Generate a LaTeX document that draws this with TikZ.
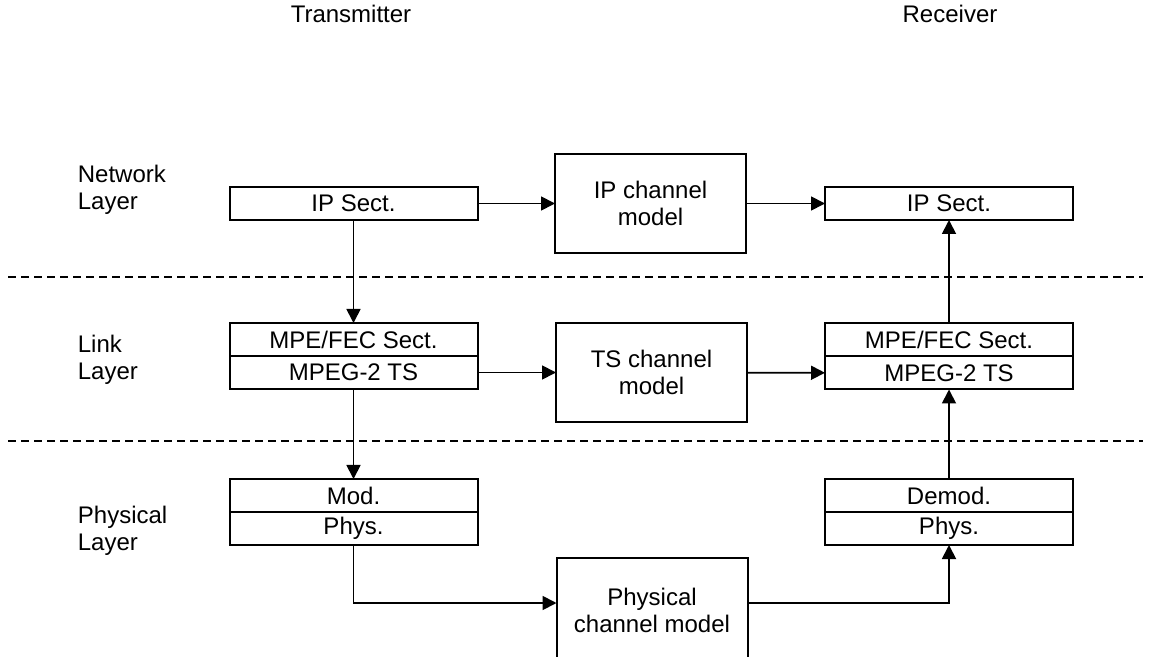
\documentclass[tikz,border=0pt]{standalone}
\usepackage{fontspec}
\setmainfont{Liberation Sans}
\usetikzlibrary{arrows.meta,positioning}

\begin{document}
\begin{tikzpicture}[x=0.5pt,y=-0.5pt,>={Triangle[length=7pt,width=7pt]},line width=0.9pt,
    every node/.style={font=\fontsize{12}{13.5}\selectfont},
    sect/.style={draw,line width=1pt,inner sep=0pt,outer sep=0pt,minimum width=124pt,minimum height=16.5pt},
    chan/.style={draw,line width=1pt,inner sep=0pt,outer sep=0pt,minimum width=95.5pt,minimum height=49.5pt,align=center},
    layer/.style={anchor=west,align=left,inner sep=0pt},
    divider/.style={dash pattern=on 4pt off 2.5pt,line width=0.7pt}]
  \useasboundingbox (0,0) rectangle (1151,657);

  % column titles
  \node (tx) at (351,14) {Transmitter};
  \node (rx) at (950,14) {Receiver};

  % layer names and separators
  \node[layer] (netlayer) at (77,190) {Network\\Layer};
  \node[layer] (linklayer) at (77,360) {Link\\Layer};
  \node[layer] (phylayer) at (77,531) {Physical\\Layer};
  \draw[divider] (8,277) -- (1143,277);
  \draw[divider] (8,441) -- (1143,441);

  % transmitter side
  \node[sect] (tip) at (353.5,203.5) {IP Sect.};
  \node[sect] (tmpe) at (353.5,339.5) {MPE/FEC Sect.};
  \node[sect] (tmpeg) [below=0pt of tmpe] {MPEG-2 TS};
  \node[sect] (tmod) at (353.5,495.5) {Mod.};
  \node[sect] (tphys) [below=0pt of tmod] {Phys.};

  % channel models
  \node[chan] (ipchan) at (650.5,203.5) {IP channel\\model};
  \node[chan] (tschan) at (651.5,372.5) {TS channel\\model};
  \node[chan,minimum height=52pt] (phychan) at (652,610) {Physical\\channel model};

  % receiver side
  \node[sect] (rip) at (949,203.5) {IP Sect.};
  \node[sect] (rmpe) at (949,340) {MPE/FEC Sect.};
  \node[sect] (rmpeg) [below=0pt of rmpe] {MPEG-2 TS};
  \node[sect] (rdemod) at (949,495.5) {Demod.};
  \node[sect] (rphys) [below=0pt of rdemod] {Phys.};

  \path[->] (tip) edge (tmpe)
            (tmpeg) edge (tmod)
            (tip) edge (ipchan)
            (ipchan) edge (rip)
            (tmpeg) edge (tschan)
            (tschan) edge (rmpeg)
            (rdemod) edge (rmpeg)
            (rmpe) edge (rip);
  \draw[->] (tphys) |- ([yshift=3.5pt]phychan.west);
  \draw[->] ([yshift=3.5pt]phychan.east) -| (rphys);
\end{tikzpicture}
\end{document}
